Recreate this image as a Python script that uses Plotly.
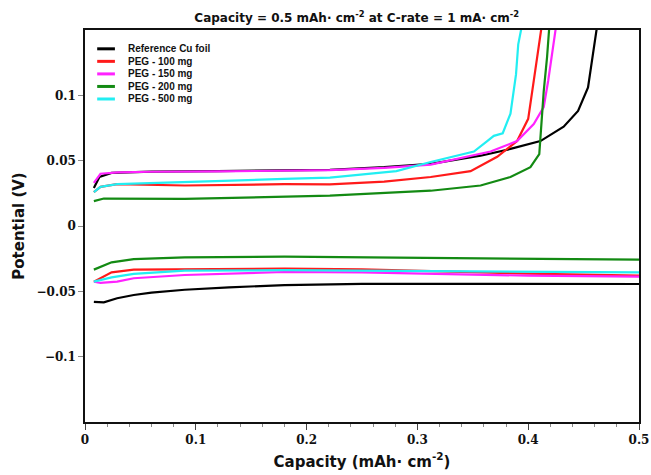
import plotly.graph_objects as go

# Galvanostatic voltage profiles: plating (negative) and stripping (positive) branches
series_names = ["Reference Cu foil", "PEG - 100 mg", "PEG - 150 mg", "PEG - 200 mg", "PEG - 500 mg"]
series_colors = ["#000000", "#ff1a1a", "#ff22ff", "#138a13", "#22eef2"]

# Reference Cu foil
cu_plate_x = [0.008, 0.017, 0.029, 0.044, 0.06, 0.09, 0.13, 0.18, 0.25, 0.32, 0.4, 0.5]
cu_plate_y = [-0.058, -0.0584, -0.0553, -0.0528, -0.051, -0.0488, -0.047, -0.0452, -0.0443, -0.0442, -0.0443, -0.0444]
cu_strip_x = [0.008, 0.013, 0.024, 0.06, 0.12, 0.18, 0.221, 0.27, 0.312, 0.357, 0.384, 0.411, 0.432, 0.445, 0.454, 0.458, 0.462]
cu_strip_y = [0.029, 0.0375, 0.0406, 0.0416, 0.042, 0.0424, 0.043, 0.045, 0.0475, 0.0538, 0.059, 0.065, 0.076, 0.088, 0.106, 0.129, 0.152]

# PEG - 100 mg
p100_plate_x = [0.008, 0.024, 0.044, 0.09, 0.18, 0.25, 0.31, 0.4, 0.5]
p100_plate_y = [-0.0426, -0.0355, -0.0334, -0.033, -0.0326, -0.0332, -0.0345, -0.0365, -0.038]
p100_strip_x = [0.008, 0.014, 0.029, 0.09, 0.18, 0.221, 0.27, 0.312, 0.348, 0.372, 0.39, 0.4, 0.405, 0.41, 0.412]
p100_strip_y = [0.026, 0.030, 0.032, 0.031, 0.032, 0.0318, 0.034, 0.0375, 0.042, 0.053, 0.065, 0.082, 0.111, 0.139, 0.152]

# PEG - 150 mg
p150_plate_x = [0.008, 0.014, 0.029, 0.044, 0.09, 0.18, 0.25, 0.31, 0.4, 0.5]
p150_plate_y = [-0.0426, -0.0436, -0.0426, -0.040, -0.0375, -0.0352, -0.0355, -0.0365, -0.038, -0.0388]
p150_strip_x = [0.008, 0.014, 0.03, 0.06, 0.12, 0.18, 0.221, 0.27, 0.312, 0.366, 0.39, 0.405, 0.414, 0.418, 0.422, 0.425]
p150_strip_y = [0.033, 0.040, 0.041, 0.0415, 0.0418, 0.042, 0.0427, 0.0445, 0.047, 0.057, 0.065, 0.078, 0.091, 0.111, 0.134, 0.152]

# PEG - 200 mg
p200_plate_x = [0.008, 0.024, 0.044, 0.09, 0.18, 0.3, 0.4, 0.5]
p200_plate_y = [-0.0334, -0.0278, -0.0253, -0.024, -0.0235, -0.0242, -0.0252, -0.0258]
p200_strip_x = [0.008, 0.017, 0.09, 0.18, 0.221, 0.312, 0.357, 0.384, 0.402, 0.41, 0.411, 0.414, 0.417, 0.419]
p200_strip_y = [0.019, 0.021, 0.0207, 0.0227, 0.0232, 0.027, 0.031, 0.0375, 0.045, 0.055, 0.068, 0.103, 0.129, 0.152]

# PEG - 500 mg
p500_plate_x = [0.008, 0.024, 0.044, 0.09, 0.18, 0.3, 0.4, 0.5]
p500_plate_y = [-0.0426, -0.0393, -0.0367, -0.0342, -0.0338, -0.0345, -0.035, -0.0355]
p500_strip_x = [0.008, 0.014, 0.029, 0.09, 0.18, 0.221, 0.281, 0.312, 0.336, 0.351, 0.363, 0.369, 0.377, 0.384, 0.389, 0.391, 0.394]
p500_strip_y = [0.026, 0.030, 0.032, 0.0334, 0.036, 0.037, 0.042, 0.049, 0.054, 0.057, 0.065, 0.069, 0.071, 0.086, 0.116, 0.139, 0.152]

profiles = [
    (cu_plate_x, cu_plate_y, cu_strip_x, cu_strip_y),
    (p100_plate_x, p100_plate_y, p100_strip_x, p100_strip_y),
    (p150_plate_x, p150_plate_y, p150_strip_x, p150_strip_y),
    (p200_plate_x, p200_plate_y, p200_strip_x, p200_strip_y),
    (p500_plate_x, p500_plate_y, p500_strip_x, p500_strip_y),
]

fig = go.Figure()
for name, color, (px_, py_, sx_, sy_) in zip(series_names, series_colors, profiles):
    fig.add_trace(go.Scatter(
        x=list(px_) + [None] + list(sx_),
        y=list(py_) + [None] + list(sy_),
        mode="lines",
        name=name,
        line=dict(color=color, width=2.2),
        connectgaps=False,
        showlegend=False,
    ))

# Compact key in the upper-left corner of the plot (line sample + label per series)
key_font = dict(family="Liberation Sans", size=10, color="#111111", weight="bold")
key_top, key_step = 0.952, 0.032
for i, (name, color) in enumerate(zip(series_names, series_colors)):
    yk = key_top - i * key_step
    fig.add_shape(type="line", xref="paper", yref="paper",
                  x0=0.022, x1=0.054, y0=yk, y1=yk,
                  line=dict(color=color, width=3))
    fig.add_annotation(xref="paper", yref="paper", x=0.074, y=yk,
                       xanchor="left", yanchor="middle", text=name,
                       showarrow=False, font=key_font)

tick_font = dict(family="DejaVu Serif", size=12, color="#111111", weight="bold")
label_font = dict(family="DejaVu Sans", size=15, color="#111111", weight="bold")

fig.update_layout(
    width=651,
    height=475,
    margin=dict(l=85, r=12, t=30, b=53),
    paper_bgcolor="white",
    plot_bgcolor="white",
    title=dict(
        text="Capacity = 0.5 mAh\u00b7 cm<sup>-2</sup> at C-rate = 1 mA\u00b7 cm<sup>-2</sup>",
        x=0.548, xanchor="center", y=0.962, yanchor="middle",
        font=dict(family="DejaVu Sans", size=12, color="#111111", weight="bold"),
    ),
    showlegend=False,
)

fig.update_xaxes(
    range=[0, 0.5],
    automargin=False,
    tickvals=[0, 0.1, 0.2, 0.3, 0.4, 0.5],
    ticktext=["0", "0.1", "0.2", "0.3", "0.4", "0.5"],
    ticks="outside", ticklen=6, tickwidth=1, tickcolor="#444444",
    minor=dict(dtick=0.02, ticks="outside", ticklen=3, tickcolor="#888888", showgrid=False),
    showline=True, linecolor="#111111", linewidth=1.5, mirror=True,
    showgrid=False, zeroline=False,
    tickfont=tick_font,
    title=dict(text="Capacity (mAh\u00b7 cm<sup>-2</sup>)", font=label_font, standoff=10),
)

fig.update_yaxes(
    range=[-0.15, 0.15],
    automargin=False,
    tickvals=[-0.1, -0.05, 0, 0.05, 0.1],
    ticktext=["\u22120.1", "\u22120.05", "0", "0.05", "0.1"],
    ticks="outside", ticklen=5, tickwidth=1, tickcolor="#888888",
    showline=True, linecolor="#111111", linewidth=1.5, mirror=True,
    showgrid=False, zeroline=False,
    tickfont=tick_font,
    title=dict(text="Potential (V)", font=label_font, standoff=8),
)

fig.write_html("out.html")
